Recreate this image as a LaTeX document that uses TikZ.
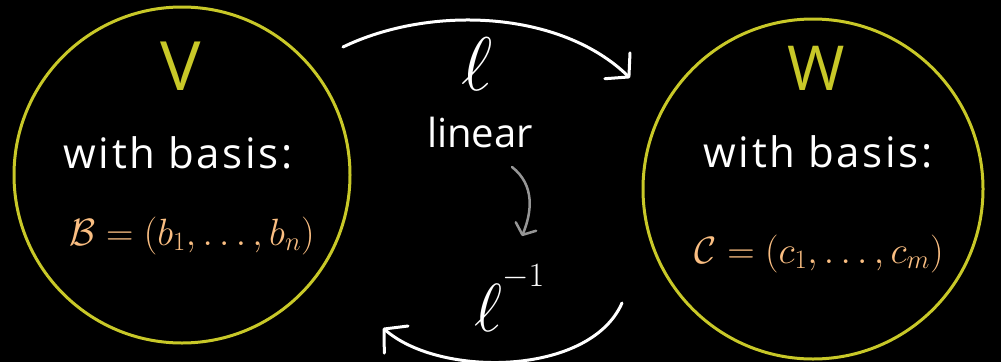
\RequirePackage{fix-cm}
\documentclass[tikz,border=0pt]{standalone}
\usepackage{fontspec}
\setmainfont{Open Sans}
\usetikzlibrary{arrows.meta}
\definecolor{ring}{RGB}{200,200,40}
\definecolor{basis}{RGB}{250,190,130}
\definecolor{hint}{RGB}{150,150,150}
\begin{document}
\begin{tikzpicture}[x=1pt,y=-1pt,
  ringnode/.style={circle,draw=ring,line width=3pt,inner sep=0pt},
  bigarrow/.style={draw=white,line width=3pt,line cap=round,
    -{Straight Barb[length=16pt,width=36pt,line cap=round,line join=round]}},
  hintarrow/.style={draw=hint,line width=2.5pt,line cap=round,
    -{Straight Barb[length=9pt,width=22pt,line cap=round,line join=round]}},
  label/.style={text=white,inner sep=0pt,font=\fontsize{42}{44}\selectfont\addfontfeature{LetterSpace=6}},
  spacename/.style={text=ring,inner sep=0pt},
  basisline/.style={text=basis,inner sep=0pt,font=\fontsize{38}{42}\selectfont}]
\fill[black] (0,0) rectangle (1001,362);
\useasboundingbox (0,0) rectangle (1001,362);
% circles
\node[ringnode,minimum size=336pt] (Vc) at (182,175) {};
\node[ringnode,minimum size=340pt] (Wc) at (813,189) {};
% left space
\node[spacename,anchor=base,font=\fontsize{68}{68}\selectfont] (V) at (181,90) {V};
\node[label,anchor=base] (Vb) at (178,168) {with basis:};
\node[basisline,anchor=base] (Vset) at (192,245) {$\mathcal{B}=\bigl(b_1,\ldots,b_n\bigr)$};
% right space
\node[spacename,anchor=base,font=\fontsize{62}{62}\selectfont] (W) at (816,90) {W};
\node[label,anchor=base] (Wb) at (818,167) {with basis:};
\node[basisline,anchor=base] (Wset) at (819,263) {$\mathcal{C}=\bigl(c_1,\ldots,c_m\bigr)$};
% middle
\node[text=white,inner sep=0pt,anchor=base,font=\fontsize{76}{76}\selectfont] (ell) at (477,90) {$\ell$};
\node[label,anchor=base,font=\fontsize{40}{42}\selectfont] (lin) at (480,147) {linear};
\node[text=white,inner sep=0pt,anchor=base west,font=\fontsize{68}{68}\selectfont] (ellinv) at (474,331) {$\ell\raisebox{45pt}{$\scriptscriptstyle -1$}$};
% connectors
\coordinate (ts) at (343,47);
\coordinate (te) at (630,78);
\draw[bigarrow] (ts) .. controls (430,5) and (560,10) .. (te);
\coordinate (bs) at (622,303);
\coordinate (be) at (383,328);
\draw[bigarrow] (bs) .. controls (590,376) and (440,378) .. (be);
\coordinate (hs) at (512,167);
\coordinate (he) at (522,236);
\draw[hintarrow] (hs) .. controls (535,185) and (532,212) .. (he);
\end{tikzpicture}
\end{document}
